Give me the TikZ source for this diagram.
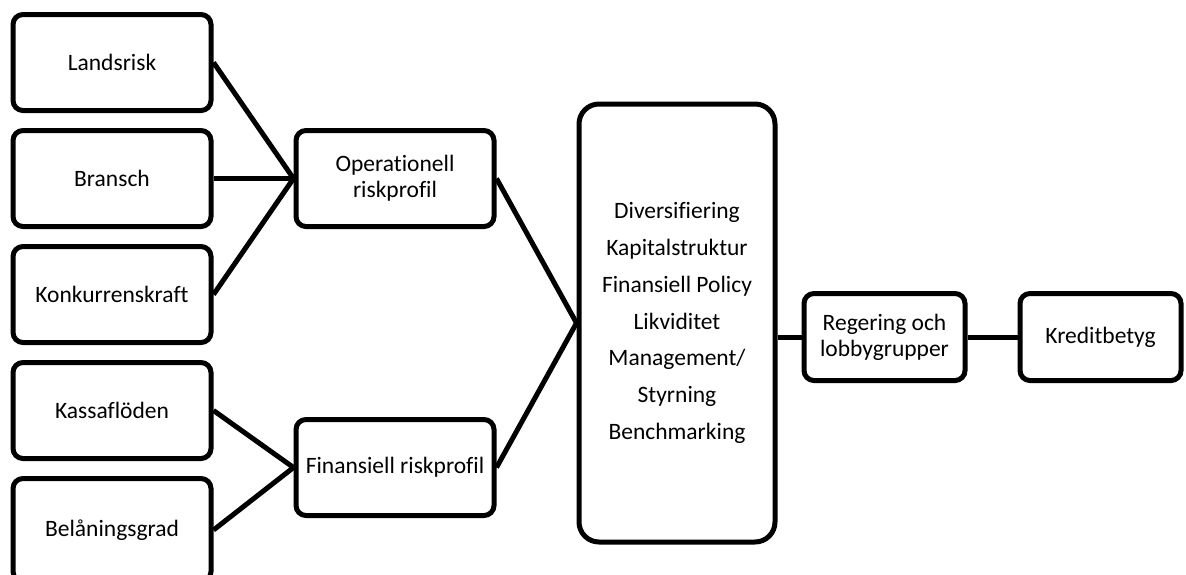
\documentclass[tikz,border=0pt]{standalone}
\usepackage{fontspec}
\setmainfont{Carlito}[Ligatures=NoCommon]
\usetikzlibrary{
	calc,
	positioning
}
\tikzset{
	node distance=15pt,
	box/.style={
		draw,
		line width=5pt,
		rounded corners=10pt,
		minimum width=198pt,
		minimum height=96pt,
		align=center,
		inner sep=4pt
	},
	smallbox/.style={
		box,
		minimum width=161pt,
		minimum height=87pt
	},
	bigbox/.style={
		box,
		rounded corners=20pt,
		minimum width=196pt,
		minimum height=438pt,
		font=\fontsize{23.5}{36.7}\selectfont
	}
}

\begin{document}
\begin{tikzpicture}[x=1pt,y=-1pt,font=\fontsize{23.5}{26}\selectfont]
	\useasboundingbox (0,0) rectangle (1186,574);
	\draw[line width=5pt]
		node [box] at (112,62.5)       (land)    {Landsrisk}
		node [box,below=of land]       (bransch) {Bransch}
		node [box,below=of bransch]    (konk)    {Konkurrenskraft}
		node [box,below=of konk]       (kassa)   {Kassaflöden}
		node [box,minimum height=103pt,below=of kassa] (belan) {Belåningsgrad}
		node [box,right=80pt of bransch] (oper)  {Operationell\\riskprofil}
		node [box,below=188pt of oper] (fin)     {Finansiell riskprofil}
		coordinate (mid) at ($(oper.east)!0.5!(fin.east)$)
		node [bigbox,right=80pt of mid] (core)
			{Diversifiering\\Kapitalstruktur\\Finansiell Policy\\Likviditet\\Management/\\Styrning\\Benchmarking}
		node [smallbox,right=24pt of core,yshift=-14pt] (reg) {Regering och\\lobbygrupper}
		node [smallbox,right=50pt of reg] (kredit) {Kreditbetyg}

		(land.east)    edge (oper.west)
		(bransch.east) edge (oper.west)
		(konk.east)    edge (oper.west)
		(kassa.east)   edge (fin.west)
		(belan.east)   edge (fin.west)
		(oper.east)    edge (core.west)
		(fin.east)     edge (core.west)
		(core.east |- reg.west) edge (reg.west)
		(reg.east)     edge (kredit.west)
	;
\end{tikzpicture}
\end{document}
